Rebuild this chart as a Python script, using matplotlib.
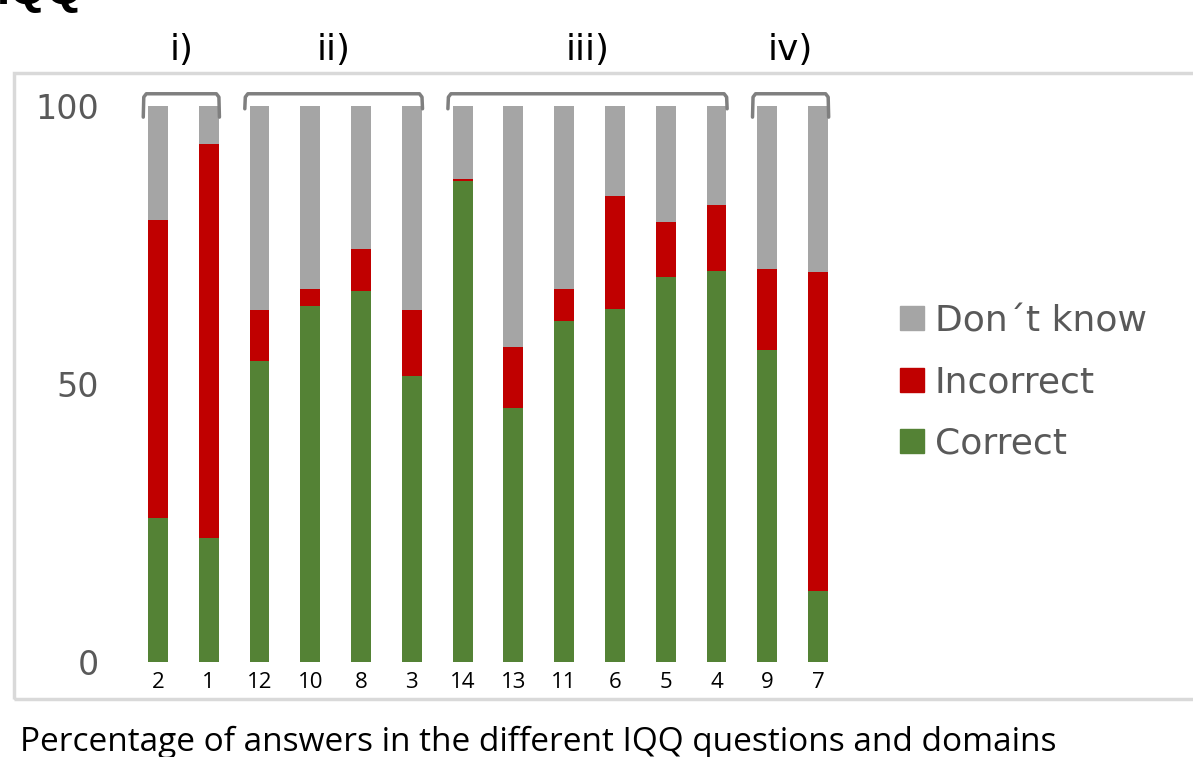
import matplotlib
matplotlib.use("Agg")
import matplotlib.pyplot as plt
from matplotlib.patches import Rectangle, Patch

# data
questions = ["2", "1", "12", "10", "8", "3", "14", "13", "11", "6", "5", "4", "9", "7"]
correct = [25.9, 22.3, 54.1, 64.0, 66.7, 51.4, 86.5, 45.7, 61.3, 63.5, 69.2, 70.3, 56.1, 12.8]
incorrect = [53.6, 70.9, 9.2, 3.1, 7.6, 11.9, 0.4, 11.0, 5.8, 20.3, 9.9, 11.9, 14.6, 57.3]
dont_know = [20.5, 6.8, 36.7, 32.9, 25.7, 36.7, 13.1, 43.3, 32.9, 16.7, 20.9, 17.8, 29.3, 29.9]
group_labels = ["i)", "ii)", "iii)", "iv)"]
group_spans = [(0, 1), (2, 5), (6, 11), (12, 13)]

GREEN = "#548235"
RED = "#c00000"
GRAY = "#a5a5a5"

W, H = 1193, 757
fig = plt.figure(figsize=(W / 100, H / 100), dpi=100)
ax = fig.add_axes([132.6 / W, 1 - 662 / H, 710.8 / W, 556 / H])

x = list(range(len(questions)))
bw = 0.39
ax.bar(x, correct, bw, color=GREEN, label="Correct")
bottom2 = [c for c in correct]
ax.bar(x, incorrect, bw, bottom=bottom2, color=RED, label="Incorrect")
bottom3 = [c + i for c, i in zip(correct, incorrect)]
ax.bar(x, dont_know, bw, bottom=bottom3, color=GRAY, label="Don\u00b4t know")

ax.set_xlim(-0.5, 13.5)
ax.set_ylim(0, 100)
ax.set_yticks([0, 50, 100])
ax.set_yticklabels(["0", "50", "100"], family="DejaVu Sans", fontsize=24, color="#595959")
ax.set_xticks(x)
ax.set_xticklabels(questions, family="Open Sans", fontsize=16, color="black")
ax.tick_params(axis="y", length=0, pad=24)
ax.tick_params(axis="x", length=0, pad=7)
for s in ax.spines.values():
    s.set_visible(False)

# group brackets and labels
for lab, (a, b) in zip(group_labels, group_spans):
    x0, x1 = a - 0.28, b + 0.2
    yb = 98.0 if (b - a) < 2 else 99.5
    yt = 102.2
    r = 0.05
    ax.plot([x0 - 0.01, x0, x0 + r, x1 - r, x1, x1 + 0.01],
            [yb, yt - 0.6, yt, yt, yt - 0.6, yb],
            color="#7f7f7f", lw=2.5, clip_on=False, solid_capstyle="round")
    ax.text((x0 + x1) / 2, 110, lab, ha="center", va="center",
            fontsize=26, family="DejaVu Sans", clip_on=False)

# legend
handles = [Patch(color=GRAY), Patch(color=RED), Patch(color=GREEN)]
fig.legend(handles, ["Don\u00b4t know", "Incorrect", "Correct"],
           loc="upper left", bbox_to_anchor=(900 / W, 1 - 304 / H),
           frameon=False, prop={"family": "DejaVu Sans", "size": 26},
           labelcolor="#595959", handlelength=0.66, handleheight=0.66,
           handletextpad=0.3, labelspacing=0.76, borderaxespad=0, borderpad=0)

# chart border
fig.patches.append(Rectangle((14 / W, 1 - 699 / H), 1.2, (699 - 73) / H,
                             transform=fig.transFigure, fill=False,
                             edgecolor="#d9d9d9", lw=2.5))

fig.text(-0.003, 1 - 4 / H, "IQQ", fontsize=34, fontweight="bold",
         family="Liberation Sans", va="baseline", ha="left")
fig.text(20 / W, 1 - 751 / H, "Percentage of answers in the different IQQ questions and domains",
         fontsize=24, family="Open Sans", va="baseline", ha="left")

fig.savefig("out.png", dpi=100)
